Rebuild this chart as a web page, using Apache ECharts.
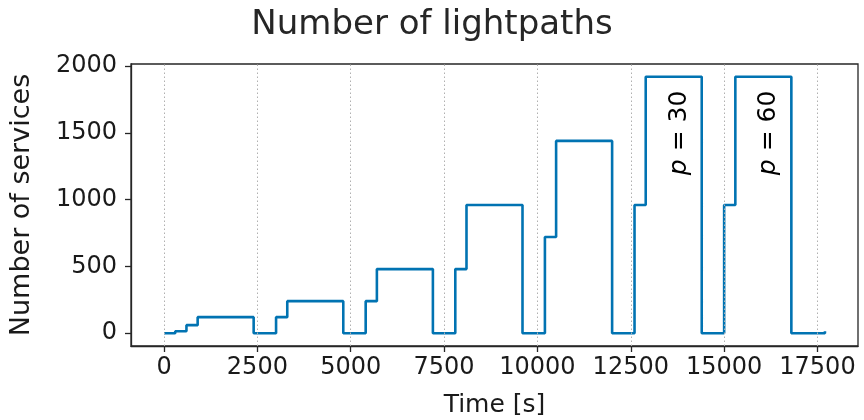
<!DOCTYPE html>
<html>
<head>
<meta charset="utf-8">
<script src="https://cdn.jsdelivr.net/npm/echarts@6/dist/echarts.min.js"></script>
<style>html,body{margin:0;padding:0;background:#fff}#c{width:864px;height:420px}</style>
</head>
<body>
<div id="c"></div>
<script>
// Data
const times  = [0, 300, 600, 900, 2400, 3000, 3300, 4800, 5400, 5700, 7200, 7800, 8100, 9600, 10200, 10500, 12000, 12600, 12900, 14400, 15000, 15300, 16800, 17700];
const values = [0, 15, 60, 120, 0, 120, 240, 0, 240, 480, 0, 480, 960, 0, 720, 1440, 0, 960, 1920, 0, 960, 1920, 0, 15];
const xTicks = [0, 2500, 5000, 7500, 10000, 12500, 15000, 17500];
const yTicks = [0, 500, 1000, 1500, 2000];
const annotationX = [13800, 16200];
const annotationY = [1500, 1500];
const annotationText = ['30', '60'];

const lineData = times.map((t, i) => [t, values[i]]);
const annData = annotationX.map((x, i) => [x, annotationY[i], annotationText[i]]);

const txt = '#1a1a1a';
const font = 'DejaVu Sans';
const chart = echarts.init(document.getElementById('c'), null, {renderer: 'canvas'});
chart.setOption({
  animation: false,
  backgroundColor: '#fff',
  title: {
    text: 'Number of lightpaths', left: 'center', top: 3,
    textStyle: {fontFamily: font, fontSize: 34, fontWeight: 'normal', color: '#262626'}
  },
  grid: {left: 131, right: 6, top: 64, bottom: 74, show: true, borderColor: '#262626', borderWidth: 1.3, containLabel: false, outerBoundsMode: 'none'},
  xAxis: {
    type: 'value', min: -885, max: 18585,
    name: 'Time [s]', nameLocation: 'middle', nameGap: 47,
    nameTextStyle: {fontFamily: font, fontSize: 25, color: txt},
    axisLine: {show: true, onZero: false, lineStyle: {color: '#262626', width: 1.3}},
    axisTick: {show: true, length: 6, inside: false, customValues: xTicks, lineStyle: {color: '#262626', width: 1.3}},
    axisLabel: {customValues: xTicks, formatter: v => String(v), fontFamily: font, fontSize: 24, color: txt, margin: 10, showMinLabel: true, showMaxLabel: true},
    splitLine: {show: false}
  },
  yAxis: {
    type: 'value', min: -96, max: 2016,
    name: 'Number of services', nameLocation: 'middle', nameGap: 96,
    nameTextStyle: {fontFamily: font, fontSize: 27, color: txt},
    axisLine: {show: true, onZero: false, lineStyle: {color: '#262626', width: 1.3}},
    axisTick: {show: true, length: 6, inside: false, customValues: yTicks, lineStyle: {color: '#262626', width: 1.3}},
    axisLabel: {customValues: yTicks, formatter: v => String(v), fontFamily: font, fontSize: 24, color: txt, margin: 14},
    splitLine: {show: false}
  },
  series: [
    {
      type: 'line', data: [], z: 1, silent: true,
      markLine: {
        silent: true, symbol: 'none', label: {show: false},
        lineStyle: {type: [1.5, 2.5], color: '#b0b0b0', width: 1},
        data: xTicks.map(v => ({xAxis: v}))
      }
    },
    {
      type: 'line', step: 'end', data: lineData, showSymbol: false, z: 3,
      lineStyle: {color: '#0173b2', width: 2.6}, itemStyle: {color: '#0173b2'}
    },
    {
      type: 'scatter', data: annData, symbolSize: 0, z: 4, silent: true,
      label: {
        show: true, position: 'inside', rotate: 90,
        formatter: p => '{i|p} = ' + p.data[2],
        fontFamily: font, fontSize: 25, color: '#000', textBorderWidth: 0, opacity: 1,
        rich: {i: {fontFamily: font, fontStyle: 'italic', fontSize: 25, color: '#000', textBorderWidth: 0}}
      }
    }
  ]
});
</script>
</body>
</html>
